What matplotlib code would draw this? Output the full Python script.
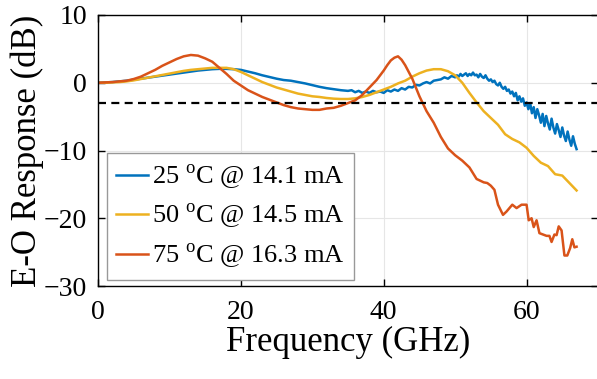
import numpy as np
import matplotlib as mpl
mpl.use('Agg')
import matplotlib.pyplot as plt

plt.rcParams['font.family'] = 'Liberation Serif'
plt.rcParams['mathtext.fontset'] = 'custom'
plt.rcParams['mathtext.rm'] = 'Liberation Serif'

# ---- data ----------------------------------------------------------
# 25 C : smooth part (1 GHz), noisy middle (0.5 GHz), noisy tail (0.25 GHz)
f_25_low = np.arange(0, 36, 1)
db_25_low = [0.0, 0.05, 0.1, 0.2, 0.3, 0.45, 0.6, 0.75, 0.9, 1.05,
             1.2, 1.35, 1.5, 1.65, 1.8, 1.9, 2.0, 2.05, 2.05, 2.0,
             1.9, 1.65, 1.4, 1.1, 0.85, 0.6, 0.4, 0.3, 0.1, -0.1,
             -0.35, -0.6, -0.8, -0.95, -1.1, -1.2]
f_25_mid = np.arange(35.5, 49.51, 0.5)
db_25_mid = [-1.1, -1.4, -1.2, -1.5, -1.3, -1.5, -1.2, -1.4, -1.3, -1.5,
             -1.1, -1.3, -1.0, -1.2, -0.8, -1.0, -0.6, -0.7, -0.3, -0.4,
             -0.1, 0.1, -0.1, 0.3, 0.4, 0.5, 0.8, 0.6, 1.0]
f_25_high = np.arange(50, 67.01, 0.25)
db_25_high = [0.8, 1.1, 0.9, 1.3, 1.0, 1.2, 1.4, 1.0, 1.3, 1.1,
              1.5, 1.1, 1.2, 0.8, 1.3, 0.9, 0.7, 1.1, 0.6, 0.3,
              0.5, 0.1, 0.3, -0.2, -0.4, 0.0, -0.6, -0.9, -0.6, -1.2,
              -1.0, -1.6, -1.3, -2.0, -1.5, -2.6, -2.0, -2.8, -2.3, -3.4,
              -2.9, -3.9, -3.0, -4.5, -3.6, -5.2, -3.9, -4.8, -5.9, -4.6,
              -6.4, -4.9, -6.0, -6.9, -5.3, -6.6, -7.5, -6.1, -7.0, -8.0,
              -6.6, -7.8, -8.6, -7.2, -8.4, -9.3, -7.9, -9.0, -9.8]

f_50 = np.arange(0, 68, 1)
db_50 = [0.0, 0.0, 0.05, 0.1, 0.2, 0.35, 0.55, 0.75, 0.95, 1.15,
         1.35, 1.55, 1.75, 1.9, 2.0, 2.1, 2.2, 2.2, 2.2, 2.0,
         1.6, 1.1, 0.6, 0.1, -0.3, -0.7, -1.0, -1.3, -1.6, -1.8,
         -2.0, -2.1, -2.25, -2.35, -2.4, -2.4, -2.3, -2.1, -1.8, -1.4,
         -1.0, -0.6, -0.1, 0.3, 0.9, 1.4, 1.8, 2.0, 2.0, 1.7,
         1.1, 0.0, -1.5, -2.9, -4.2, -5.2, -6.2, -7.6, -8.3, -8.8,
         -9.6, -10.8, -11.8, -12.3, -13.5, -13.7, -14.8, -15.9]

f_75 = [0, 1, 2, 3, 4, 5, 6, 7, 8, 9,
        10, 11, 12, 13, 14, 15, 16, 17, 18, 19,
        20, 21, 22, 23, 24, 25, 26, 27, 28, 29,
        30, 31, 32, 33, 34, 35, 36, 37, 38, 39,
        40, 40.5, 41, 41.5, 42, 42.5, 43, 44, 45, 46,
        47, 48, 49, 50, 51, 52, 53, 54, 54.5, 55,
        55.5, 56, 56.7, 57.2, 58, 58.6, 59.3, 60, 60.3, 60.7,
        61, 61.4, 61.8, 62.8, 63.2, 63.5, 63.9, 64.2, 64.5, 64.9,
        65.3, 65.7, 66.1, 66.4, 66.7, 67]
db_75 = [0.0, 0.05, 0.1, 0.2, 0.3, 0.55, 0.9, 1.4, 1.9, 2.5,
         3.0, 3.5, 3.9, 4.1, 4.0, 3.6, 3.1, 2.2, 1.3, 0.3,
         -0.4, -1.1, -1.6, -2.1, -2.5, -2.9, -3.3, -3.6, -3.8, -3.9,
         -4.0, -4.0, -3.8, -3.7, -3.4, -3.0, -2.6, -1.8, -0.7, 0.4,
         1.8, 2.6, 3.3, 3.7, 3.9, 3.4, 2.6, 0.6, -2.0, -4.2,
         -5.9, -8.0, -9.7, -10.7, -11.5, -12.5, -14.2, -14.7, -14.8, -15.2,
         -15.8, -18.0, -19.5, -19.0, -18.0, -18.5, -18.0, -18.0, -20.3, -20.0,
         -21.3, -20.3, -22.2, -22.6, -22.6, -23.5, -22.4, -22.5, -21.2, -21.8,
         -25.5, -25.5, -24.4, -23.1, -24.3, -24.2]

labels = [r'25 $^{\rm o}$C @ 14.1 mA',
          r'50 $^{\rm o}$C @ 14.5 mA',
          r'75 $^{\rm o}$C @ 16.3 mA']
colors = ['#0072BD', '#EDB120', '#D95319']
threshold = -3

# ---------------------------------------------------------------------
fig = plt.figure(figsize=[5.97, 3.79], dpi=100)
ax = fig.add_axes([98/597, 1 - 286/379, 500/597, 271/379])

f_25 = np.concatenate([f_25_low, f_25_mid, f_25_high])
db_25 = np.concatenate([db_25_low, db_25_mid, db_25_high])
ax.plot(f_25, db_25, color=colors[0], linewidth=1.8, label=labels[0])
ax.plot(f_50, db_50, color=colors[1], linewidth=1.8, label=labels[1])
ax.plot(f_75, db_75, color=colors[2], linewidth=1.8, label=labels[2])
ax.axhline(threshold, color='black', linewidth=1.6, dashes=(3.6, 2.4))

ax.set_xlim(0, 70)
ax.set_ylim(-30, 10)
ax.set_xticks([0, 20, 40, 60])
ax.set_yticks([-30, -20, -10, 0, 10])
ax.grid(True, color='#e6e6e6', linewidth=0.8)
ax.set_axisbelow(True)
ax.tick_params(direction='in', top=True, right=True, length=5,
               labelsize=20, width=1)
ax.tick_params(axis='x', pad=10)
ax.tick_params(axis='y', pad=8)
for s in ax.spines.values():
    s.set_linewidth(1)
ax.set_xlabel('Frequency (GHz)', fontsize=25, labelpad=1)
ax.set_ylabel('E-O Response (dB)', fontsize=25, labelpad=0)

leg = ax.legend(loc='lower left', bbox_to_anchor=(0.018, 0.022),
                borderaxespad=0, fontsize=19, fancybox=False,
                edgecolor='#999999', framealpha=1, handlelength=1.2,
                handletextpad=0.15, labelspacing=0.4, borderpad=0.35)
leg.get_frame().set_linewidth(1)

plt.savefig('out.png', dpi=100)
